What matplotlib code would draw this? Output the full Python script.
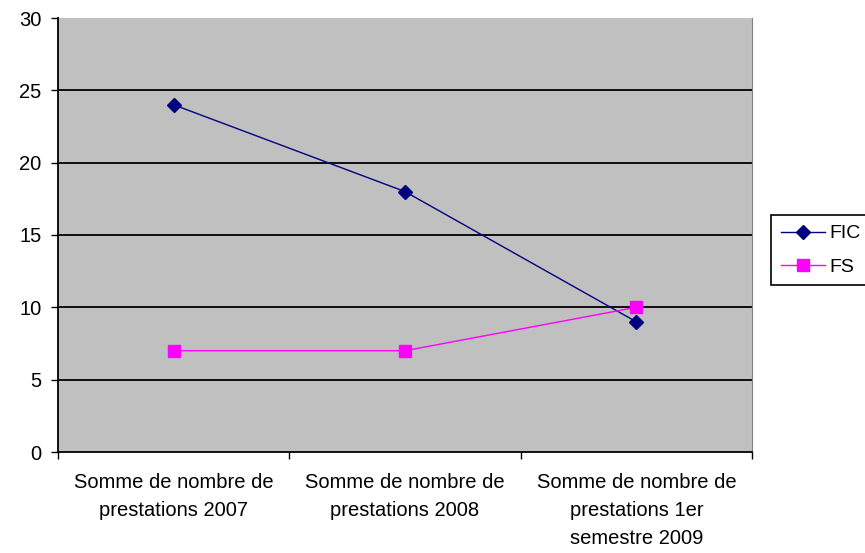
import numpy as np
import matplotlib.pyplot as plt

categories = ["Somme de nombre de\nprestations 2007",
              "Somme de nombre de\nprestations 2008",
              "Somme de nombre de\nprestations 1er\nsemestre 2009"]
fic = [24, 18, 9]
fs = [7, 7, 10]

plt.rcParams['font.family'] = ['Liberation Sans', 'DejaVu Sans']

fig = plt.figure(figsize=(8.65, 5.53), dpi=100)
ax = fig.add_axes([58 / 865, 1 - 452 / 553, 694 / 865, 434 / 553])
ax.set_facecolor("#C0C0C0")

x = np.arange(len(categories))
ax.plot(x, fic, color="#000080", marker="D", markersize=7, linewidth=1, label="FIC", zorder=3)
ax.plot(x, fs, color="#FF00FF", marker="s", markersize=8, linewidth=1, label="FS", zorder=3)

ax.set_xlim(-0.5, 2.5)
ax.set_ylim(0, 30)
ax.set_yticks(range(0, 31, 5))
for yv in range(5, 30, 5):
    ax.axhline(yv, color="black", linewidth=1.3, zorder=1)

ax.set_xticks([-0.5, 0.5, 1.5, 2.5])
ax.set_xticklabels([])
ax.set_xticks(x, minor=True)
ax.set_xticklabels(categories, minor=True, fontsize=14.5, linespacing=1.6)
ax.tick_params(axis="x", which="minor", length=0, pad=15)
ax.tick_params(axis="x", which="major", length=5, width=1, direction="out")
ax.tick_params(axis="y", length=5, width=1, direction="out", labelsize=14.5, pad=7)

ax.spines["top"].set_visible(False)
ax.spines["right"].set_color("#808080")
ax.spines["left"].set_linewidth(1.3)
ax.spines["bottom"].set_linewidth(1.3)

leg = ax.legend(loc="upper left", bbox_to_anchor=(771 / 865, 1 - 215 / 553), bbox_transform=fig.transFigure,
                fontsize=14, frameon=True, fancybox=False, edgecolor="black", framealpha=1,
                handlelength=2.3, handletextpad=0.2, borderaxespad=0, labelspacing=0.8,
                borderpad=0.5)
leg.get_frame().set_linewidth(1.2)

fig.savefig("out.png", dpi=100)
